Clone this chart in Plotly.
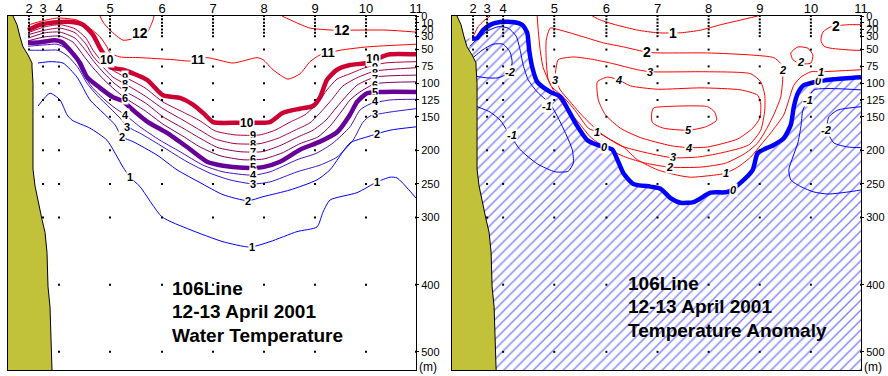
import plotly.graph_objects as go

# ---------------- data ----------------
stations = [21, 35, 51, 102, 154, 205, 256, 307, 358, 408]
station_names = ["2", "3", "4", "5", "6", "7", "8", "9", "10", "11"]
station_max_depth = [50, 300, 500, 500, 500, 500, 500, 500, 500, 500]
sample_depths = [0, 5, 10, 15, 20, 25, 30, 50, 75, 100, 125, 150, 200, 250, 300, 400, 500]
depth_ticks = [0, 10, 20, 30, 50, 75, 100, 125, 150, 200, 250, 300, 400, 500]

# bottom topography (distance, depth)
coast = [(5, 0), (9, 13), (12, 31), (15, 46), (20, 58), (24, 70), (24, 76), (25, 100), (25, 150),
         (25, 228), (27, 253), (30, 277), (34, 303), (37, 322), (39, 352), (40, 403), (42, 433), (44, 527)]

# ---- water temperature isotherms (distance, depth m) ----
temp_12a = [(92, 0), (95, 9), (102, 21), (115, 36), (127, 33), (139, 25), (145, 6), (146, 0)]
temp_12b = [(274, 0), (287, 9), (302, 18), (325, 21), (345, 21), (379, 21), (408, 24)]
temp_11 = [(21, 13), (35, 7), (50, 3), (69, 6), (80, 16), (92, 31), (99, 46), (102, 55), (112, 61), (132, 62),
           (165, 65), (182, 67), (199, 62), (225, 70), (249, 62), (255, 65), (265, 80), (280, 94), (292, 86),
           (302, 68), (312, 58), (332, 51), (359, 46), (408, 42)]
temp_10 = [(20, 21), (32, 13), (52, 9), (64, 9), (75, 13), (85, 28), (92, 48), (95, 55), (102, 76), (115, 80),
           (139, 95), (155, 118), (172, 122), (185, 132), (197, 147), (205, 158), (229, 159), (249, 159),
           (262, 158), (275, 144), (292, 138), (305, 134), (312, 121), (319, 95), (329, 80), (342, 73),
           (359, 70), (375, 60), (382, 57), (408, 57)]
temp_9 = [(20, 25), (37, 16), (52, 13), (67, 19), (78, 33), (85, 51), (94, 68), (104, 80), (117, 91), (137, 107),
          (155, 128), (175, 143), (192, 156), (207, 171), (227, 177), (252, 177), (267, 170), (282, 158),
          (297, 147), (310, 129), (319, 110), (329, 94), (342, 86), (357, 77), (377, 70), (408, 68)]
temp_8 = [(20, 28), (37, 21), (52, 18), (67, 25), (78, 42), (85, 60), (95, 76), (105, 91), (117, 101), (137, 119),
          (155, 138), (175, 155), (192, 170), (207, 183), (227, 190), (252, 190), (270, 182), (287, 170),
          (302, 159), (314, 141), (324, 124), (335, 104), (349, 92), (367, 82), (408, 77)]
temp_7 = [(20, 33), (37, 25), (52, 24), (67, 33), (78, 52), (86, 68), (96, 85), (107, 101), (117, 112), (137, 129),
          (155, 150), (175, 167), (192, 182), (210, 196), (232, 202), (254, 202), (272, 193), (290, 180),
          (305, 170), (318, 155), (328, 137), (339, 118), (349, 103), (367, 91), (408, 88)]
temp_6 = [(20, 37), (37, 31), (52, 30), (65, 39), (76, 60), (85, 77), (96, 95), (107, 110), (117, 122), (137, 141),
          (155, 161), (175, 179), (192, 195), (212, 208), (235, 214), (255, 213), (274, 204), (292, 190),
          (310, 180), (322, 164), (333, 143), (342, 125), (352, 113), (367, 101), (408, 98)]
temp_5 = [(20, 40), (32, 39), (47, 36), (54, 39), (62, 51), (72, 70), (79, 91), (92, 107), (105, 121), (114, 126),
          (125, 140), (140, 158), (159, 174), (179, 195), (199, 217), (215, 223), (235, 226), (255, 225),
          (272, 217), (292, 199), (312, 187), (329, 173), (342, 147), (349, 128), (359, 115), (375, 113), (408, 113)]
temp_4 = [(20, 45), (37, 43), (49, 42), (58, 48), (67, 62), (75, 86), (84, 106), (97, 125), (107, 137), (117, 147),
          (132, 165), (152, 185), (172, 202), (195, 222), (215, 232), (245, 237), (262, 232), (289, 214),
          (309, 204), (325, 189), (342, 165), (352, 140), (362, 131), (382, 125), (408, 124)]
temp_3 = [(22, 51), (37, 51), (50, 51), (60, 60), (70, 77), (79, 100), (89, 118), (102, 137), (112, 152), (119, 164),
          (135, 177), (155, 195), (179, 217), (202, 234), (222, 244), (245, 250), (262, 247), (289, 232),
          (312, 222), (329, 210), (345, 185), (355, 158), (362, 149), (382, 143), (408, 138)]
temp_2 = [(30, 70), (42, 68), (55, 70), (69, 91), (82, 125), (95, 144), (107, 162), (114, 180), (125, 187),
          (149, 207), (169, 229), (192, 248), (215, 266), (240, 275), (255, 269), (282, 259), (309, 244),
          (322, 229), (342, 189), (359, 180), (382, 170), (408, 165)]
temp_1 = [(30, 134), (42, 115), (52, 125), (59, 147), (64, 155), (82, 167), (99, 185), (115, 225), (122, 240),
          (132, 254), (154, 299), (182, 318), (215, 336), (242, 344), (262, 336), (289, 321), (309, 314),
          (315, 292), (322, 274), (349, 263), (369, 247), (382, 240), (389, 241), (408, 271)]

temp_labels = [("12", 132, 25), ("12", 334, 21), ("11", 190, 65), ("11", 320, 55),
               ("10", 99, 65), ("10", 239, 159), ("10", 365, 64),
               ("9", 245, 177), ("8", 245, 190), ("7", 245, 202), ("6", 245, 213), ("5", 245, 225),
               ("4", 245, 237), ("3", 245, 250), ("2", 240, 275), ("1", 244, 344),
               ("9", 367, 76), ("8", 367, 85), ("7", 367, 94), ("6", 367, 103), ("5", 367, 113),
               ("4", 367, 126), ("3", 367, 146), ("2", 369, 176), ("1", 369, 247),
               ("9", 117, 91), ("8", 117, 101), ("7", 117, 112), ("6", 117, 122),
               ("4", 117, 147), ("3", 119, 165), ("2", 114, 180), ("1", 122, 240)]

# ---- temperature anomaly contours (distance, depth m) ----
anom_0 = [(20, 34), (25, 33), (31, 21), (38, 13), (48, 9), (60, 9), (70, 13), (75, 25), (77, 51), (80, 76),
          (85, 98), (98, 113), (108, 120), (116, 140), (125, 164), (135, 185), (145, 192), (152, 195),
          (160, 199), (165, 214), (171, 234), (181, 250), (198, 254), (208, 257), (218, 271), (228, 278),
          (241, 277), (258, 263), (275, 262), (288, 248), (300, 229), (305, 204), (321, 192), (331, 182),
          (338, 162), (341, 135), (345, 115), (351, 103), (366, 97), (381, 94), (408, 91)]
anom_1a = [(22, 28), (26, 16), (32, 7), (38, 0)]
anom_1b = [(85, 0), (86, 21), (88, 51), (91, 77), (100, 106), (110, 119), (123, 141), (136, 167), (145, 173),
           (158, 184), (171, 195), (185, 214), (205, 229), (225, 237), (238, 240), (261, 237), (273, 234),
           (285, 225), (298, 210), (308, 192), (318, 174), (331, 147), (336, 125), (341, 103), (348, 91),
           (358, 83), (368, 83), (408, 80)]
anom_1c = [(140, 0), (148, 6), (163, 13), (185, 21), (205, 25), (228, 25), (248, 21), (268, 13), (288, 6), (305, 0)]
anom_2a = [(98, 18), (108, 21), (131, 31), (151, 40), (171, 46), (195, 54), (208, 55), (255, 55), (298, 58),
           (321, 62), (328, 71), (330, 88), (328, 120), (321, 147), (313, 170), (305, 189), (293, 204),
           (273, 219), (248, 225), (217, 225), (193, 219), (173, 210), (153, 196), (138, 180), (126, 158),
           (113, 136), (103, 115), (96, 95), (94, 65), (94, 36), (98, 18)]
anom_2b = [(338, 55), (345, 46), (355, 48), (360, 58), (358, 70), (348, 71), (340, 65), (338, 55)]
anom_2c = [(408, 13), (395, 13), (378, 16), (370, 24), (368, 36), (371, 45), (378, 48), (401, 51), (408, 51)]
anom_3 = [(106, 65), (121, 61), (138, 64), (158, 70), (185, 80), (198, 83), (255, 83), (298, 86), (308, 98),
          (312, 118), (312, 140), (308, 170), (296, 192), (268, 204), (245, 210), (220, 211), (195, 204),
          (168, 193), (148, 174), (131, 150), (118, 128), (108, 110), (103, 92), (104, 76), (106, 65)]
anom_4 = [(145, 98), (155, 91), (166, 95), (178, 104), (205, 109), (248, 107), (288, 110), (305, 118),
          (308, 132), (307, 152), (300, 167), (285, 183), (255, 195), (236, 196), (218, 193), (188, 181),
          (168, 167), (153, 147), (146, 125), (145, 98)]
anom_5 = [(201, 137), (211, 135), (255, 135), (262, 143), (264, 155), (253, 165), (236, 170), (211, 167),
          (200, 159), (199, 147), (201, 137)]
anom_m1a = [(18, 45), (26, 33), (36, 22), (46, 16), (56, 18), (64, 30), (68, 51), (71, 73), (76, 95), (85, 113),
            (98, 131), (106, 152), (114, 177), (120, 199), (121, 219), (116, 231), (103, 232), (85, 220),
            (68, 199), (56, 173), (48, 155), (38, 143), (25, 135)]
anom_m2a = [(21, 62), (30, 51), (41, 42), (51, 42), (58, 54), (60, 70), (56, 85), (46, 92), (34, 92), (25, 90)]
anom_m1b = [(408, 110), (361, 110), (355, 125), (350, 140), (348, 165), (345, 189), (340, 210), (336, 229),
            (338, 244), (348, 254), (361, 262), (375, 265), (395, 262), (408, 259)]
anom_m2b = [(408, 135), (385, 140), (376, 150), (374, 170), (381, 189), (395, 195), (408, 196)]

anom_labels = [("3", 198, 83), ("4", 166, 95), ("5", 236, 170), ("4", 236, 196), ("3", 220, 210),
               ("2", 217, 225), ("1", 273, 234), ("0", 152, 195), ("0", 281, 259), ("0", 366, 97),
               ("1", 368, 83), ("2", 330, 80), ("2", 348, 68), ("1", 145, 173), ("3", 103, 95),
               ("-1", 95, 134), ("-1", 60, 177), ("-2", 58, 83), ("-1", 355, 125), ("-2", 373, 170)]
anom_big_labels = [("1", 220, 25), ("2", 195, 54), ("2", 383, 15)]

# ---------------- figure ----------------
FONT = "Arial, Liberation Sans, sans-serif"
fig = go.Figure()


def add_line(pts, color, width, xa, ya):
    fig.add_trace(go.Scatter(
        x=[p[0] for p in pts], y=[p[1] for p in pts], mode="lines",
        line=dict(color=color, width=width, shape="spline", smoothing=0.6),
        xaxis=xa, yaxis=ya, hoverinfo="skip", showlegend=False))


# hatched negative-anomaly region (right panel)
hatch = [(0, 34)] + anom_0 + [(408, 527), (0, 527)]
fig.add_trace(go.Scatter(
    x=[p[0] for p in hatch], y=[p[1] for p in hatch], mode="lines", fill="toself",
    line=dict(width=0, color="rgba(0,0,0,0)"),
    fillpattern=dict(shape="/", fgcolor="#0000ff", bgcolor="white", size=7, solidity=0.2),
    xaxis="x2", yaxis="y2", hoverinfo="skip", showlegend=False))

# left panel isotherms
temp_lines = [
    (temp_12a, "#ff0000", 1), (temp_12b, "#ff0000", 1), (temp_11, "#ff0000", 1),
    (temp_10, "#cc0033", 4.5), (temp_9, "#b5003f", 1), (temp_8, "#a2004d", 1),
    (temp_7, "#8f005c", 1), (temp_6, "#7d006c", 1), (temp_5, "#660099", 4.5),
    (temp_4, "#4a10c0", 1), (temp_3, "#3018d8", 1), (temp_2, "#0000ff", 1), (temp_1, "#0000ff", 1),
]
for pts, col, w in temp_lines:
    add_line(pts, col, w, "x", "y")

# right panel anomaly contours
for pts in [anom_1a, anom_1b, anom_1c, anom_2a, anom_2b, anom_2c, anom_3, anom_4, anom_5]:
    add_line(pts, "#ff0000", 1, "x2", "y2")
for pts in [anom_m1a, anom_m2a, anom_m1b, anom_m2b]:
    add_line(pts, "#0000ff", 1, "x2", "y2")
add_line(anom_0, "#0000ff", 4.5, "x2", "y2")

# station sample dots
dx, dy = [], []
for s, mx in zip(stations, station_max_depth):
    for d in sample_depths:
        if d <= mx:
            dx.append(s)
            dy.append(d)
for xa, ya in [("x", "y"), ("x2", "y2")]:
    fig.add_trace(go.Scatter(x=dx, y=dy, mode="markers",
                             marker=dict(size=2, color="black", symbol="square"),
                             xaxis=xa, yaxis=ya, hoverinfo="skip", showlegend=False))

# coast / shelf
land = [(0, 0)] + coast + [(0, 527)]
for xa, ya in [("x", "y"), ("x2", "y2")]:
    fig.add_trace(go.Scatter(x=[p[0] for p in land], y=[p[1] for p in land], mode="lines",
                             fill="toself", fillcolor="#c2c23a", line=dict(width=0),
                             xaxis=xa, yaxis=ya, hoverinfo="skip", showlegend=False))
    fig.add_trace(go.Scatter(x=[p[0] for p in coast], y=[p[1] for p in coast], mode="lines",
                             line=dict(color="black", width=1),
                             xaxis=xa, yaxis=ya, hoverinfo="skip", showlegend=False))

annotations = []
big = {"12": 14, "11": 13, "10": 12}
for t, x, d in temp_labels:
    annotations.append(dict(x=x, y=d, xref="x", yref="y", text="<b>%s</b>" % t, showarrow=False,
                            font=dict(family=FONT, size=big.get(t, 11), color="black"),
                            bgcolor="white", borderpad=0))
for t, x, d in anom_labels:
    annotations.append(dict(x=x, y=d, xref="x2", yref="y2", text="<b><i>%s</i></b>" % t, showarrow=False,
                            font=dict(family=FONT, size=11, color="black"),
                            bgcolor="white", borderpad=0))
for t, x, d in anom_big_labels:
    annotations.append(dict(x=x, y=d, xref="x2", yref="y2", text="<b>%s</b>" % t, showarrow=False,
                            font=dict(family=FONT, size=14, color="black"),
                            bgcolor="white", borderpad=0))

W, H = 888, 376
left_text = ["106Line", "12-13 April 2001", "Water Temperature"]
right_text = ["106Line", "12-13 April 2001", "Temperature Anomaly"]
for i, t in enumerate(left_text):
    annotations.append(dict(x=170 / W, y=1 - (288 + 23.5 * i) / H, xref="paper", yref="paper",
                            text="<b>%s</b>" % t, showarrow=False, xanchor="left", yanchor="middle",
                            font=dict(family=FONT, size=19, color="black")))
for i, t in enumerate(right_text):
    annotations.append(dict(x=626 / W, y=1 - (283 + 23.5 * i) / H, xref="paper", yref="paper",
                            text="<b>%s</b>" % t, showarrow=False, xanchor="left", yanchor="middle",
                            font=dict(family=FONT, size=19, color="black")))
for px in [428, 873]:
    annotations.append(dict(x=px / W, y=1 - 367 / H, xref="paper", yref="paper", text="(m)",
                            showarrow=False, xanchor="center", yanchor="middle",
                            font=dict(family=FONT, size=12, color="black")))

ydom = [(376 - 370) / 376, (376 - 16) / 376]
xaxis_common = dict(range=[0, 408], showgrid=False, zeroline=False, showline=True, linecolor="black",
                    linewidth=1, mirror=True, side="top", tickmode="array", tickvals=stations,
                    ticktext=station_names, ticks="", fixedrange=True, automargin=False,
                    ticklabelstandoff=-3,
                    tickfont=dict(family=FONT, size=13, color="black"))
yaxis_common = dict(range=[527, 0], showgrid=False, zeroline=False, showline=True, linecolor="black",
                    linewidth=1, mirror=True, side="right", tickmode="array", tickvals=depth_ticks,
                    ticks="outside", ticklen=2, tickcolor="black", domain=ydom, fixedrange=True,
                    automargin=False, tickfont=dict(family=FONT, size=11, color="black"))

fig.update_layout(
    width=W, height=H, margin=dict(l=0, r=0, t=0, b=0, autoexpand=False),
    paper_bgcolor="white", plot_bgcolor="white",
    xaxis=dict(domain=[8 / W, 416 / W], anchor="y", **xaxis_common),
    yaxis=dict(anchor="x", **yaxis_common),
    xaxis2=dict(domain=[452 / W, 861 / W], anchor="y2", **xaxis_common),
    yaxis2=dict(anchor="x2", **yaxis_common),
    annotations=annotations,
    showlegend=False,
)

fig.write_html("out.html", config={"displayModeBar": False},
               post_script="document.body.style.margin='0';document.body.style.overflow='hidden';")
